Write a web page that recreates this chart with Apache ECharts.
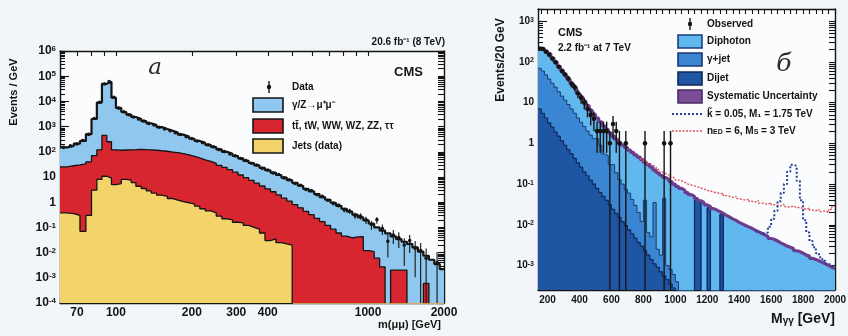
<!DOCTYPE html>
<html><head><meta charset="utf-8">
<script src="https://cdn.jsdelivr.net/npm/echarts@6/dist/echarts.min.js"></script>
<style>html,body{margin:0;padding:0;background:#f3f6f9}#c{width:848px;height:336px}</style>
</head><body><div id="c"></div>
<script>
// ===== Panel а : dimuon mass, variable log bins (lower edges + last upper edge) =====
const leftBinEdges = [60,64,68,72,76,80,84,88,92,96, 100,105,110,115,120,126,132,138,145,152, 160,168,176,185,195,205,215,226,238,250, 263,276,290,305,320,336,353,371,390,410, 431,453,476,500,526,553,581,611,642,675, 710,746,784,824,866,910,957,1006,1057,1111, 1168,1228,1291,1357,1426,1499,1576,1657,1742,1831, 1925,2000];
// stacked tops (Events / GeV)
const leftDrellYanTop = [150,170,210,270,500,2000,9000,50000,60000,14000, 5500,3800,3000,2400,2000,1650,1350,1150,950,800, 680,580,480,400,330,270,230,190,155,125, 100,84,68,55,44,36,29,23,18.5,15, 12,9.5,7.5,5.8,4.5,3.4,2.7,2.1,1.6,1.25, 0.95,0.72,0.55,0.42,0.32,0.25,0.19,0.14,0.1,0.075, 0.058,0.044,0.034,0.027,0.022,0.016,0.011,0.0075,0.0052,0.0035,0.0022];
const leftTtbarTop = [25,28,30,33,40,70,120,450,250,120, 115,118,120,122,125,122,120,115,110,105, 98,92,85,76,66,57,48,42,35,29, 24,19.5,15.5,12,9.5,7.4,5.7,4.4,3.4,2.6, 1.95,1.45,1.1,0.8,0.6,0.43,0.32,0.23,0.17,0.12, 0.085,0.06,0.045,0.038,0.042,0.043,0.012,0.011,0.006,0.0027, 0,0.002,0.002,0.002,0,0,0,0.0006,0,0,0];
const leftJets = [0.38,0.35,0.3,0.07,0.3,3,8,10.7,9,5, 5.5,8,7.5,6,4.3,3.5,2.8,2.3,1.9,1.7, 1.4,1.2,1.05,0.95,0.85,0.7,0.55,0.45,0.38,0.28, 0.22,0.2,0.16,0.15,0.12,0.1,0.085,0.06,0.03,0.035, 0.025,0.022,0.02,0,0,0,0,0,0,0, 0,0,0,0,0,0,0,0,0,0, 0,0,0,0,0,0,0,0,0,0,0];
const leftData = [150,175,205,280,490,2100,9200,49000,61000,14500, 5400,3850,2950,2420,1980,1660,1340,1160,940,810, 690,570,485,395,335,268,232,188,157,122, 102,82,69,54,45,35,30,22,19,14.5, 12.5,9.2,7.8,5.5,4.7,3.2,2.9,2.0,1.7,1.2, 0.9,0.75,0.5,0.45,0.3,0.28,0.2,0.13,0.2,0.09, 0.028,0.05,0.04,0.02,0.03,0.015,0.012,0.006,null,0.004,null];
const leftXLabels = [70,100,200,300,400,1000,2000];
const leftYLabels = [1e-4,1e-3,1e-2,1e-1,1,10,100,1e3,1e4,1e5,1e6];

// ===== Panel б : diphoton mass, 20 GeV bins starting at 140 GeV =====
const rightFirstEdge = 140, rightBinWidth = 20;
const rightTotalTop = [220,210,185,160,125,100,78,62,48,38, 30,24,17,14,11,8.5,6.5,5.2,4.2,3.4, 2.7,2.2,1.8,1.5,1.25,1.05,0.9,0.8,0.68,0.6, 0.52,0.46,0.4,0.34,0.3,0.26,0.22,0.19,0.165,0.145, 0.13,0.115,0.1,0.088,0.078,0.07,0.062,0.055,0.05,0.044, 0.039,0.035,0.031,0.028,0.025,0.023,0.021,0.019,0.017,0.0155, 0.014,0.0128,0.0115,0.0105,0.0096,0.0088,0.0082,0.0074,0.0068,0.0062, 0.0057,0.0052,0.0046,0.0044,0.004,0.0036,0.0033,0.003,0.0028,0.0026, 0.0023,0.0022,0.002,0.0018,0.0017,0.0015,0.0014,0.0013,0.0012,0.0011, 0.001,0.0009,0.00085];
const rightGammaJetTop = [70,60,48,38,30,24,18.5,14.5,11.5,9, 7,5.5,4.2,3.3,2.6,2.0,1.6,1.3,1.3,0.9, 0.55,0.5,0.3,0.3,0.19,0.13,0.1,0.074,0.06,0.042, 0.03,0.02,0.012,0.04,0.0065,0.005,0.035,0.0025,0.0018,0.045, 0.001,0.0008,0.0006,0.0004,0,0,0,0,0,0.04, 0.036,0,0,0.026,0,0,0,0.018,0,0, 0,0,0,0,0,0,0,0,0,0, 0,0,0,0,0,0,0,0,0,0, 0,0,0,0,0,0,0,0,0,0, 0,0,0];
const rightDijetTop = [7,5.5,4.2,3.2,2.5,1.9,1.5,1.15,0.9,0.7, 0.55,0.43,0.33,0.26,0.2,0.16,0.125,0.1,0.078,0.062, 0.05,0.04,0.031,0.024,0.019,0.015,0.012,0.0095,0.0075,0.006, 0.0047,0.0037,0.003,0.0023,0.0018,0.0014,0.0011,0.0009,0.0007,0.00055, 0.00045,0.00035,0.00028,0,0,0,0,0,0,0.04, 0.036,0,0,0.026,0,0,0,0.018,0,0, 0,0,0,0,0,0,0,0,0,0, 0,0,0,0,0,0,0,0,0,0, 0,0,0,0,0,0,0,0,0,0, 0,0,0];
const rightObserved = [212,208,178,150,121,98,76,60,49,39, 29,24,17,13,10,7,5,4,2,2, 2,2,1,3,2,1,0,1,0,0, 0,0,0,1,0,0,0,0,0,1, 0,1,0,0,0,0,0,0,0,0, 0,0,0,0,0,0,0,0,0,0, 0,0,0,0,0,0,0,0,0,0, 0,0,0,0,0,0,0,0,0,0, 0,0,0,0,0,0,0,0,0,0, 0,0,0];
const rsSignalFirstEdge = 1500;
const rsSignal = [0.0068,0.0063,0.006,0.0065,0.009,0.014,0.022,0.038,0.06,0.1, 0.2,0.3,0.28,0.12,0.04,0.013,0.0065,0.004,0.0028,0.002, 0.0016,0.0013,0.0011,0.001,0.0009];
const addSignalFirstEdge = 780;
const addSignal = [0.41,0.36,0.32,0.29,0.26,0.23,0.2,0.18,0.17,0.15, 0.14,0.125,0.12,0.11,0.1,0.095,0.09,0.085,0.08,0.075, 0.07,0.068,0.063,0.062,0.058,0.06,0.052,0.05,0.047,0.05, 0.044,0.042,0.04,0.043,0.038,0.036,0.04,0.034,0.033,0.032, 0.035,0.031,0.03,0.029,0.032,0.028,0.027,0.029,0.026,0.027, 0.025,0.024,0.026,0.023,0.022,0.024,0.021,0.022,0.02,0.024, 0.028];
const rightXLabels = [200,400,600,800,1000,1200,1400,1600,1800,2000];
const rightYLabels = [1e-3,1e-2,1e-1,1,10,100,1e3];

// ===== helpers =====
const FONT = '"Liberation Sans", Arial, Helvetica, sans-serif';
const INK = '#141414';
const FLOOR = 1e-9;
function fl(v){ return v > 0 ? v : FLOOR; }
function stepData(edges, vals){
  const d = [];
  for (let i = 0; i < vals.length; i++) d.push([edges[i], fl(vals[i])]);
  d.push([edges[vals.length], fl(vals[vals.length-1])]);
  return d;
}
function regularEdges(first, width, n){ const e=[]; for(let i=0;i<=n;i++) e.push(first+width*i); return e; }
function logMinor(lo, hi){
  const out=[];
  for (let e=Math.floor(Math.log10(lo)); e<=Math.ceil(Math.log10(hi)); e++)
    for (let k=1;k<10;k++){ const v=+(k*Math.pow(10,e)).toPrecision(6); if (v>=lo*0.9999 && v<=hi*1.0001) out.push(v); }
  return out;
}
function expLabel(v){
  const e = Math.round(Math.log10(v));
  if (e === 0) return '1';
  if (e === 1) return '10';
  return '10{e|' + e + '}';
}
function mkAxis(o){
  return {
    type:o.type, gridIndex:o.grid, min:o.min, max:o.max, position:o.pos, logBase:10,
    silent:true, axisPointer:{show:false},
    splitLine:{show:false}, minorTick:{show:false}, minorSplitLine:{show:false},
    axisLine:{show:o.line!==false, onZero:false, lineStyle:{color:INK, width:1.4}},
    axisTick:{show:true, inside:true, length:o.len||4, customValues:o.ticks, lineStyle:{color:INK, width:1.1}},
    axisLabel: o.labels ? {show:true, customValues:o.labels, formatter:o.fmt, color:INK, fontFamily:FONT,
      fontWeight:'bold', fontSize:o.fs, margin:o.margin,
      rich:{e:{fontSize:Math.round(o.fs*0.68), fontWeight:'bold', fontFamily:FONT, color:INK, verticalAlign:'top'}}} : {show:false}
  };
}

const rightEdges = regularEdges(rightFirstEdge, rightBinWidth, rightTotalTop.length);
const rightMinorX = []; for (let v=160; v<=2000; v+=40) rightMinorX.push(v);

// data points with Poisson-like error bars
const leftPoints = [];
leftData.forEach((v,i)=>{
  if (v == null) return;
  const lo = leftBinEdges[i], hi = leftBinEdges[i+1], w = hi-lo;
  const err = Math.sqrt(v*w)/w;
  leftPoints.push([Math.sqrt(lo*hi), v, fl(v-err), v+err]);
});
const rightPoints = [];
rightObserved.forEach((n,i)=>{
  if (!n) return;
  const c = rightEdges[i] + rightBinWidth/2, s = Math.sqrt(n);
  rightPoints.push([c, n, fl(n-s), n+s]);
});
function errRender(r, lw){
  return function(params, api){
    const x=api.value(0), v=api.value(1), lo=api.value(2), hi=api.value(3);
    const p=api.coord([x,v]), a=api.coord([x,lo]), b=api.coord([x,hi]);
    return {type:'group', children:[
      {type:'line', shape:{x1:p[0], y1:a[1], x2:p[0], y2:b[1]}, style:{stroke:INK, lineWidth:lw}},
      {type:'circle', shape:{cx:p[0], cy:p[1], r:r}, style:{fill:INK}}
    ]};
  };
}

function histLine(name, xi, yi, data, fill, stroke, w, z){
  const s = {name, type:'line', xAxisIndex:xi, yAxisIndex:yi, step:'end', symbol:'none', silent:true,
    data, clip:true, z, lineStyle:{color:stroke, width:w}, animation:false};
  if (fill) s.areaStyle = {color:fill, opacity:1};
  return s;
}

const leftYMinor = logMinor(1e-4, 1e6);
const leftXMinor = logMinor(60, 2000);
const rightYMinor = logMinor(2.5e-4, 2000);

const option = {
  animation:false,
  backgroundColor:'transparent',
  grid:[
    {left:60, top:51, width:384, height:252, containLabel:false, outerBoundsMode:'none', backgroundColor:'#fbfcfd', show:true, borderWidth:0},
    {left:538, top:9, width:297, height:281, containLabel:false, outerBoundsMode:'none', backgroundColor:'#fbfcfd', show:true, borderWidth:0}
  ],
  xAxis:[
    mkAxis({type:'log', grid:0, min:60, max:2000, pos:'bottom', ticks:[100,1000], len:9, labels:leftXLabels, fmt:v=>String(v), fs:12, margin:4}),
    mkAxis({type:'log', grid:0, min:60, max:2000, pos:'bottom', ticks:leftXMinor, len:5, line:false}),
    mkAxis({type:'log', grid:0, min:60, max:2000, pos:'top', ticks:leftXMinor, len:5}),
    mkAxis({type:'value', grid:1, min:140, max:2000, pos:'bottom', ticks:rightXLabels, len:8, labels:rightXLabels, fmt:v=>String(v), fs:10, margin:5}),
    mkAxis({type:'value', grid:1, min:140, max:2000, pos:'bottom', ticks:rightMinorX, len:4, line:false}),
    mkAxis({type:'value', grid:1, min:140, max:2000, pos:'top', ticks:rightMinorX, len:5})
  ],
  yAxis:[
    mkAxis({type:'log', grid:0, min:1e-4, max:1e6, pos:'left', ticks:leftYLabels, len:9, labels:leftYLabels, fmt:expLabel, fs:12, margin:4}),
    mkAxis({type:'log', grid:0, min:1e-4, max:1e6, pos:'left', ticks:leftYMinor, len:5, line:false}),
    mkAxis({type:'log', grid:0, min:1e-4, max:1e6, pos:'right', ticks:leftYMinor, len:6}),
    mkAxis({type:'log', grid:1, min:2.5e-4, max:2000, pos:'left', ticks:rightYLabels, len:9, labels:rightYLabels, fmt:expLabel, fs:10, margin:4}),
    mkAxis({type:'log', grid:1, min:2.5e-4, max:2000, pos:'left', ticks:rightYMinor, len:5, line:false}),
    mkAxis({type:'log', grid:1, min:2.5e-4, max:2000, pos:'right', ticks:rightYMinor, len:6})
  ],
  series:[
    histLine('DY', 0, 0, stepData(leftBinEdges, leftDrellYanTop), '#8fc7ee', INK, 2.2, 2),
    histLine('ttbar', 0, 0, stepData(leftBinEdges, leftTtbarTop), '#d7262f', INK, 1.3, 3),
    histLine('jets', 0, 0, stepData(leftBinEdges, leftJets), '#f2d46a', INK, 1.3, 4),
    {type:'custom', xAxisIndex:0, yAxisIndex:0, data:leftPoints, renderItem:errRender(1.8, 1.1), clip:true, z:6, silent:true, animation:false},

    histLine('diphoton', 3, 3, stepData(rightEdges, rightTotalTop), '#60b8ee', '#1d3d78', 1, 2),
    histLine('gjet', 3, 3, stepData(rightEdges, rightGammaJetTop), '#3b86d2', '#1a3870', 1, 3),
    histLine('dijet', 3, 3, stepData(rightEdges, rightDijetTop), '#1f56a4', '#0f2858', 1.2, 4),
    histLine('syst', 3, 3, stepData(rightEdges, rightTotalTop), null, '#6c3d8e', 3.2, 5),
    (function(){ const s = histLine('add', 3, 3, stepData(regularEdges(addSignalFirstEdge, rightBinWidth, addSignal.length), addSignal), null, '#e0505c', 1.4, 6); s.lineStyle.type=[2,1.5]; return s; })(),
    (function(){ const s = histLine('rs', 3, 3, stepData(regularEdges(rsSignalFirstEdge, rightBinWidth, rsSignal.length), rsSignal), null, '#28409c', 2, 6); s.lineStyle.type=[2,2]; return s; })(),
    {type:'custom', xAxisIndex:3, yAxisIndex:3, data:rightPoints, renderItem:errRender(2.3, 1.4), clip:true, z:7, silent:true, animation:false}
  ],
  graphic:[]
};

// ---- texts and legends ----
function txt(x, y, text, size, o){
  o = o || {};
  return {type:'text', x, y, rotation:o.rot||0, silent:true, z:100,
    style:{text, fill:o.color||INK, fontFamily:o.family||FONT, fontSize:size, fontWeight:o.weight||'bold', fontStyle:o.italic?'italic':'normal',
      align:o.align||'left', textAlign:o.align||'left', verticalAlign:o.va||'middle', textVerticalAlign:o.va||'middle', rich:o.rich}};
}
function box(x, y, w, h, fill, stroke){
  return {type:'rect', silent:true, z:100, shape:{x, y, width:w, height:h}, style:{fill, stroke, lineWidth:1.6}};
}
function dataMark(x, y, r){
  return [{type:'line', silent:true, z:100, shape:{x1:x, y1:y-6, x2:x, y2:y+6}, style:{stroke:INK, lineWidth:1.4}},
          {type:'circle', silent:true, z:100, shape:{cx:x, cy:y, r}, style:{fill:INK}}];
}
const subRich = (fs)=>({s:{fontSize:Math.round(fs*0.7), fontWeight:'bold', fontFamily:FONT, fill:INK, color:INK, verticalAlign:'bottom'}});
const G = option.graphic;
// left panel
G.push(txt(14, 92, 'Events / GeV', 11, {rot:Math.PI/2, align:'center'}));
G.push(txt(441, 325, 'm(μμ) [GeV]', 11, {align:'right'}));
G.push(txt(445, 42, '20.6 fb⁻¹ (8 TeV)', 10, {align:'right'}));
G.push(txt(423, 72, 'CMS', 13, {align:'right'}));
G.push(txt(155, 68, 'а', 23, {italic:true, weight:'normal', family:'"DejaVu Serif", "Liberation Serif", serif', align:'center', color:'#2a2a2a'}));
G.push(...dataMark(269, 87, 2.2));
G.push(txt(292, 87, 'Data', 10));
G.push(box(253, 98, 30, 14, '#8fc7ee', INK));
G.push(txt(292, 105, 'γ/Z→μ⁺μ⁻', 10));
G.push(box(253, 119, 30, 14, '#d7262f', INK));
G.push(txt(292, 126, 'tt̄, tW, WW, WZ, ZZ, ττ', 10));
G.push(box(253, 139, 30, 14, '#f2d46a', INK));
G.push(txt(292, 146, 'Jets (data)', 10));
// right panel
G.push(txt(501, 60, 'Events/20 GeV', 12, {rot:Math.PI/2, align:'center'}));
G.push(txt(835, 319, 'M{s|γγ} [GeV]', 14, {align:'right', rich:subRich(14)}));
G.push(txt(558, 33, 'CMS', 11));
G.push(txt(558, 48, '2.2 fb⁻¹ at 7 TeV', 10));
G.push(txt(784, 64, 'б', 25, {italic:true, weight:'normal', family:'"DejaVu Serif", "Liberation Serif", serif', align:'center', color:'#2a2a2a'}));
G.push(...dataMark(690, 24, 2.2));
G.push(txt(707, 24, 'Observed', 10));
G.push(box(678, 35, 24, 13, '#60b8ee', '#1d3d78'));
G.push(txt(707, 41, 'Diphoton', 10));
G.push(box(678, 53, 24, 13, '#3b86d2', '#1a3870'));
G.push(txt(707, 59, 'γ+jet', 10));
G.push(box(678, 72, 24, 13, '#1f56a4', '#0f2858'));
G.push(txt(707, 78, 'Dijet', 10));
G.push(box(678, 90, 24, 13, '#7b4c98', '#4a2a66'));
G.push(txt(707, 96, 'Systematic Uncertainty', 10));
G.push({type:'line', silent:true, z:100, shape:{x1:672, y1:114, x2:702, y2:114}, style:{stroke:'#28409c', lineWidth:2, lineDash:[2,2]}});
G.push(txt(707, 114, 'k̃ = 0.05, M₁ = 1.75 TeV', 10));
G.push({type:'line', silent:true, z:100, shape:{x1:672, y1:131, x2:702, y2:131}, style:{stroke:'#e0505c', lineWidth:1.5, lineDash:[2,1.5]}});
G.push(txt(707, 131, 'n{s|ED} = 6, M{s|S} = 3 TeV', 10, {rich:subRich(10)}));

const chart = echarts.init(document.getElementById('c'), null, {renderer:'canvas'});
chart.setOption(option);
</script>
</body></html>
